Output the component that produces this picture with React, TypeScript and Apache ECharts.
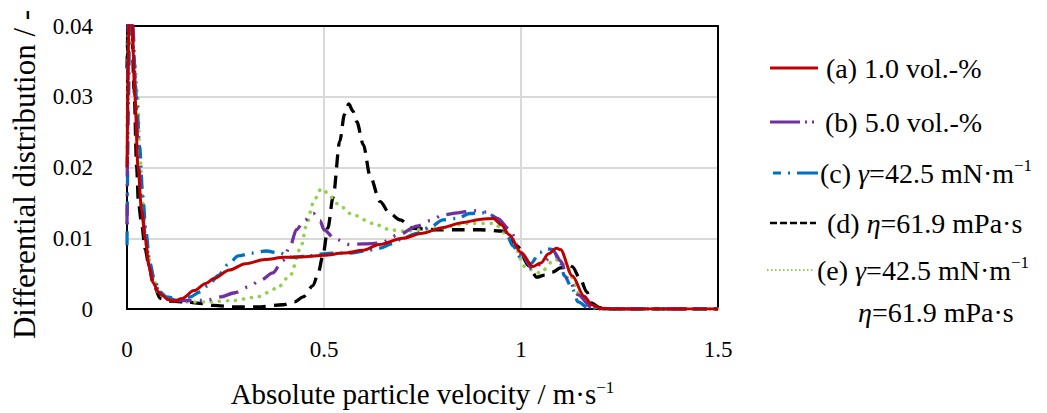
import React, { useEffect, useRef } from "react";
import * as echarts from "echarts";

const FONT = "'Liberation Serif', 'DejaVu Serif', serif";

const xTicks = { min: 0, max: 1.5, interval: 0.5 };
const yTicks = { min: 0, max: 0.04, interval: 0.01 };

// (a) 1.0 vol.-%
const seriesA: [number, number][] = [
  [0, 0.02], [0.008, 0.05], [0.013, 0.04], [0.02, 0.03], [0.028, 0.02], [0.037, 0.014],
  [0.046, 0.01], [0.056, 0.006], [0.066, 0.0037], [0.08, 0.0024], [0.09, 0.0019],
  [0.105, 0.0013], [0.12, 0.0011], [0.14, 0.0015], [0.17, 0.0026], [0.2, 0.0036],
  [0.22, 0.0043], [0.26, 0.0055], [0.3, 0.0064], [0.35, 0.007], [0.4, 0.0073],
  [0.45, 0.0074], [0.5, 0.0076], [0.55, 0.0079], [0.6, 0.0083], [0.64, 0.0091],
  [0.7, 0.01], [0.75, 0.0107], [0.8, 0.0115], [0.85, 0.0122], [0.9, 0.0127],
  [0.93, 0.0128], [0.95, 0.0119], [0.97, 0.0105], [1.0, 0.008], [1.03, 0.006],
  [1.05, 0.0065], [1.07, 0.0078], [1.09, 0.0086], [1.1, 0.0084], [1.13, 0.0047],
  [1.16, 0.0018], [1.18, 0.0006], [1.2, 0.0001], [1.25, 0], [1.5, 0],
];

// (b) 5.0 vol.-%
const seriesB: [number, number][] = [
  [0, 0.012], [0.005, 0.05], [0.015, 0.04], [0.022, 0.03], [0.03, 0.02], [0.038, 0.014],
  [0.047, 0.01], [0.057, 0.006], [0.068, 0.0037], [0.085, 0.0022], [0.1, 0.0016],
  [0.127, 0.0012], [0.2, 0.0012], [0.236, 0.0017], [0.274, 0.0023], [0.307, 0.0031],
  [0.34, 0.0041], [0.37, 0.0051], [0.395, 0.0068], [0.414, 0.0089], [0.43, 0.0112],
  [0.45, 0.0125], [0.473, 0.0135], [0.49, 0.0125], [0.5, 0.0112], [0.528, 0.0099],
  [0.566, 0.0091], [0.6, 0.0092], [0.642, 0.0093], [0.69, 0.0105], [0.736, 0.0117],
  [0.77, 0.0125], [0.802, 0.0133], [0.84, 0.0136], [0.878, 0.0139], [0.913, 0.0137],
  [0.94, 0.0128], [0.972, 0.0112], [1.0, 0.0078], [1.03, 0.0056], [1.06, 0.0068],
  [1.086, 0.0079], [1.1, 0.0068], [1.12, 0.0042], [1.145, 0.002], [1.18, 0.0002],
  [1.2, 0], [1.5, 0],
];

// (c) gamma = 42.5 mN/m
const seriesC: [number, number][] = [
  [0, 0.009], [0.004, 0.03], [0.008, 0.05], [0.016, 0.037], [0.024, 0.03], [0.032, 0.023],
  [0.04, 0.016], [0.048, 0.011], [0.058, 0.0065], [0.07, 0.004], [0.084, 0.0024],
  [0.1, 0.0017], [0.13, 0.0014], [0.16, 0.0017], [0.185, 0.0024], [0.206, 0.0033],
  [0.231, 0.0047], [0.257, 0.0063], [0.282, 0.0075], [0.317, 0.0079], [0.353, 0.0082],
  [0.388, 0.0079], [0.421, 0.0073], [0.46, 0.0075], [0.5, 0.0078], [0.523, 0.0079],
  [0.566, 0.0079], [0.604, 0.0082], [0.642, 0.0086], [0.672, 0.0092], [0.7, 0.01],
  [0.736, 0.0107], [0.77, 0.0116], [0.802, 0.0126], [0.838, 0.0128], [0.87, 0.0135],
  [0.904, 0.0136], [0.92, 0.0134], [0.939, 0.0128], [0.96, 0.011], [0.98, 0.0089],
  [1.0, 0.0072], [1.025, 0.0064], [1.048, 0.008], [1.065, 0.0085], [1.081, 0.0084],
  [1.1, 0.0065], [1.11, 0.0047], [1.13, 0.0029], [1.145, 0.001], [1.17, 0.0002],
  [1.2, 0], [1.5, 0],
];

// (d) eta = 61.9 mPa s
const seriesD: [number, number][] = [
  [0, 0.034], [0.005, 0.045], [0.012, 0.04], [0.018, 0.031], [0.0245, 0.02], [0.029, 0.015],
  [0.037, 0.0121], [0.046, 0.0085], [0.056, 0.006], [0.066, 0.0037], [0.084, 0.0015],
  [0.11, 0.0011], [0.15, 0.001], [0.185, 0.0008], [0.22, 0.0005], [0.27, 0.0003],
  [0.33, 0.0003], [0.396, 0.0006], [0.425, 0.001], [0.447, 0.0017], [0.472, 0.0033],
  [0.485, 0.005], [0.497, 0.0075], [0.51, 0.0115], [0.523, 0.0158], [0.54, 0.0237],
  [0.552, 0.0275], [0.563, 0.029], [0.573, 0.028], [0.583, 0.0265], [0.6, 0.0232],
  [0.617, 0.0188], [0.642, 0.0152], [0.667, 0.0135], [0.693, 0.0126], [0.726, 0.0114],
  [0.787, 0.0112], [0.838, 0.0112], [0.896, 0.0112], [0.954, 0.011], [0.99, 0.0089],
  [1.02, 0.0061], [1.04, 0.0045], [1.06, 0.0048], [1.08, 0.0052], [1.1, 0.0058],
  [1.12, 0.0063], [1.13, 0.006], [1.15, 0.0043], [1.167, 0.0024], [1.18, 0.0008],
  [1.2, 0.0002], [1.22, 0], [1.5, 0],
];

// (e) gamma = 42.5 mN/m, eta = 61.9 mPa s
const seriesE: [number, number][] = [
  [0, 0.026], [0.006, 0.045], [0.012, 0.037], [0.02, 0.035], [0.027, 0.03], [0.033, 0.022],
  [0.04, 0.015], [0.05, 0.0085], [0.066, 0.0047], [0.079, 0.0024], [0.109, 0.0015],
  [0.152, 0.001], [0.21, 0.001], [0.27, 0.0012], [0.33, 0.0017], [0.38, 0.0029],
  [0.414, 0.0047], [0.44, 0.0085], [0.457, 0.0121], [0.472, 0.0149], [0.49, 0.0168],
  [0.497, 0.017], [0.51, 0.0163], [0.533, 0.0149], [0.574, 0.0133], [0.624, 0.0121],
  [0.668, 0.0112], [0.7, 0.011], [0.787, 0.0114], [0.87, 0.0121], [0.93, 0.0121],
  [0.97, 0.0103], [1.015, 0.0057], [1.048, 0.0051], [1.086, 0.007], [1.1, 0.0068],
  [1.117, 0.0057], [1.15, 0.002], [1.175, 0.0006], [1.2, 0.0001], [1.22, 0], [1.5, 0],
];

const seriesNames = [
  "(a) 1.0 vol.-%",
  "(b) 5.0 vol.-%",
  "(c) γ=42.5 mN·m−1",
  "(d) η=61.9 mPa·s",
  "(e) γ=42.5 mN·m−1 η=61.9 mPa·s",
];
const colors = ["#C00000", "#7030A0", "#0070C0", "#000000", "#92D050"];

const LEG = 28;
const TITLE = 29;
const YTITLE = 31;
const TICK = 23;
const legendRich = {
  t: { fontFamily: FONT, fontSize: LEG, lineHeight: 32, fill: "#000" },
  i: { fontFamily: FONT, fontSize: LEG, lineHeight: 32, fontStyle: "italic", fill: "#000" },
  sup: { fontFamily: FONT, fontSize: 17, lineHeight: 17, verticalAlign: "top", fill: "#000" },
};

export default function App() {
  const ref = useRef<HTMLDivElement>(null);
  useEffect(() => {
    if (!ref.current) return;
    const chart = echarts.init(ref.current, undefined, { renderer: "svg" });

    const mk = (name: string, data: [number, number][], color: string, type: any, width: number, z: number, cap = "butt") => ({
      name,
      type: "line",
      data,
      showSymbol: false,
      symbol: "none",
      smooth: 0.3,
      smoothMonotone: "x",
      z,
      lineStyle: { color, width, type, cap },
    });

    const legendLine = (y: number, x1: number, x2: number, color: string, lineDash: number[] | null, lineWidth: number, cap = "butt") => ({
      type: "line",
      shape: { x1, y1: y, x2, y2: y },
      style: { stroke: color, lineWidth, lineDash: lineDash || undefined, lineCap: cap },
    });
    const legendText = (x: number, y: number, text: string) => ({
      type: "text",
      x,
      y,
      style: {
        text,
        rich: legendRich,
        fontFamily: FONT,
        fontSize: LEG,
        fill: "#000",
        verticalAlign: "middle",
        align: "left",
      },
    });

    const axisCommon = {
      type: "value",
      axisTick: { show: false },
    };

    chart.setOption({
      animation: false,
      textStyle: { fontFamily: FONT },
      grid: { left: 127, right: 329, top: 26, bottom: 99, containLabel: false },
      xAxis: [
        {
          ...axisCommon,
          ...xTicks,
          position: "bottom",
          axisLine: { show: true, onZero: false, lineStyle: { color: "#000", width: 2 } },
          splitLine: { show: true, lineStyle: { color: "#D9D9D9", width: 2 } },
          axisLabel: { color: "#000", fontSize: TICK, fontFamily: FONT, margin: 29 },
          name: "Absolute particle velocity / m·s{sup|−1}",
          nameLocation: "middle",
          nameGap: 70,
          nameTextStyle: {
            color: "#000",
            fontSize: TITLE,
            fontFamily: FONT,
            rich: {
              sup: { fontSize: 17, fontFamily: FONT, verticalAlign: "top", lineHeight: 17, color: "#000" },
            },
          },
        },
        {
          ...axisCommon,
          ...xTicks,
          position: "top",
          axisLine: { show: true, onZero: false, lineStyle: { color: "#000", width: 2 } },
          splitLine: { show: false },
          axisLabel: { show: false },
        },
      ],
      yAxis: [
        {
          ...axisCommon,
          ...yTicks,
          position: "left",
          axisLine: { show: true, onZero: false, lineStyle: { color: "#000", width: 2 } },
          splitLine: { show: true, lineStyle: { color: "#D9D9D9", width: 2 } },
          axisLabel: {
            color: "#000",
            fontSize: TICK,
            fontFamily: FONT,
            margin: 34,
            formatter: (v: number) => (v === 0 ? "0" : v.toFixed(2)),
          },
          name: "Differential distribution / -",
          nameLocation: "middle",
          nameGap: 87,
          nameTextStyle: { color: "#000", fontSize: YTITLE, fontFamily: FONT, padding: [0, 14, 0, 0] },
        },
        {
          ...axisCommon,
          ...yTicks,
          position: "right",
          axisLine: { show: true, onZero: false, lineStyle: { color: "#000", width: 2 } },
          splitLine: { show: false },
          axisLabel: { show: false },
        },
      ],
      series: [
        mk(seriesNames[3], seriesD, colors[3], [13, 8], 3.3, 2),
        mk(seriesNames[4], seriesE, colors[4], [0.1, 8], 3.6, 3, "round"),
        mk(seriesNames[2], seriesC, colors[2], [14, 7, 2, 7], 3.3, 4),
        mk(seriesNames[1], seriesB, colors[1], [20, 8, 2, 8, 2, 8], 3.3, 5),
        mk(seriesNames[0], seriesA, colors[0], "solid", 3, 6),
      ],
      graphic: [
        legendLine(68, 770, 818, colors[0], null, 3),
        legendText(826, 68, "{t|(a) 1.0 vol.-%}"),
        legendLine(122, 770, 818, colors[1], [30, 5, 2, 5, 2, 6], 3),
        legendText(825, 122, "{t|(b) 5.0 vol.-%}"),
        legendLine(173, 773, 818, colors[2], [8, 7, 2, 7, 30], 3),
        legendText(820, 173, "{t|(c) }{i|γ}{t|=42.5 mN·m}{sup|−1}"),
        legendLine(223, 770, 816, colors[3], [7, 3], 2.5),
        legendText(827, 223, "{t|(d) }{i|η}{t|=61.9 mPa·s}"),
        legendLine(270, 767, 815, colors[4], [1.5, 2.5], 2),
        legendText(817, 270, "{t|(e) }{i|γ}{t|=42.5 mN·m}{sup|−1}"),
        legendText(858, 312, "{i|η}{t|=61.9 mPa·s}"),
      ],
    });
    return () => chart.dispose();
  }, []);
  return (
    <div
      ref={ref}
      style={{ position: "absolute", left: 0, top: 0, width: 1047, height: 413, background: "#fff" }}
    />
  );
}
